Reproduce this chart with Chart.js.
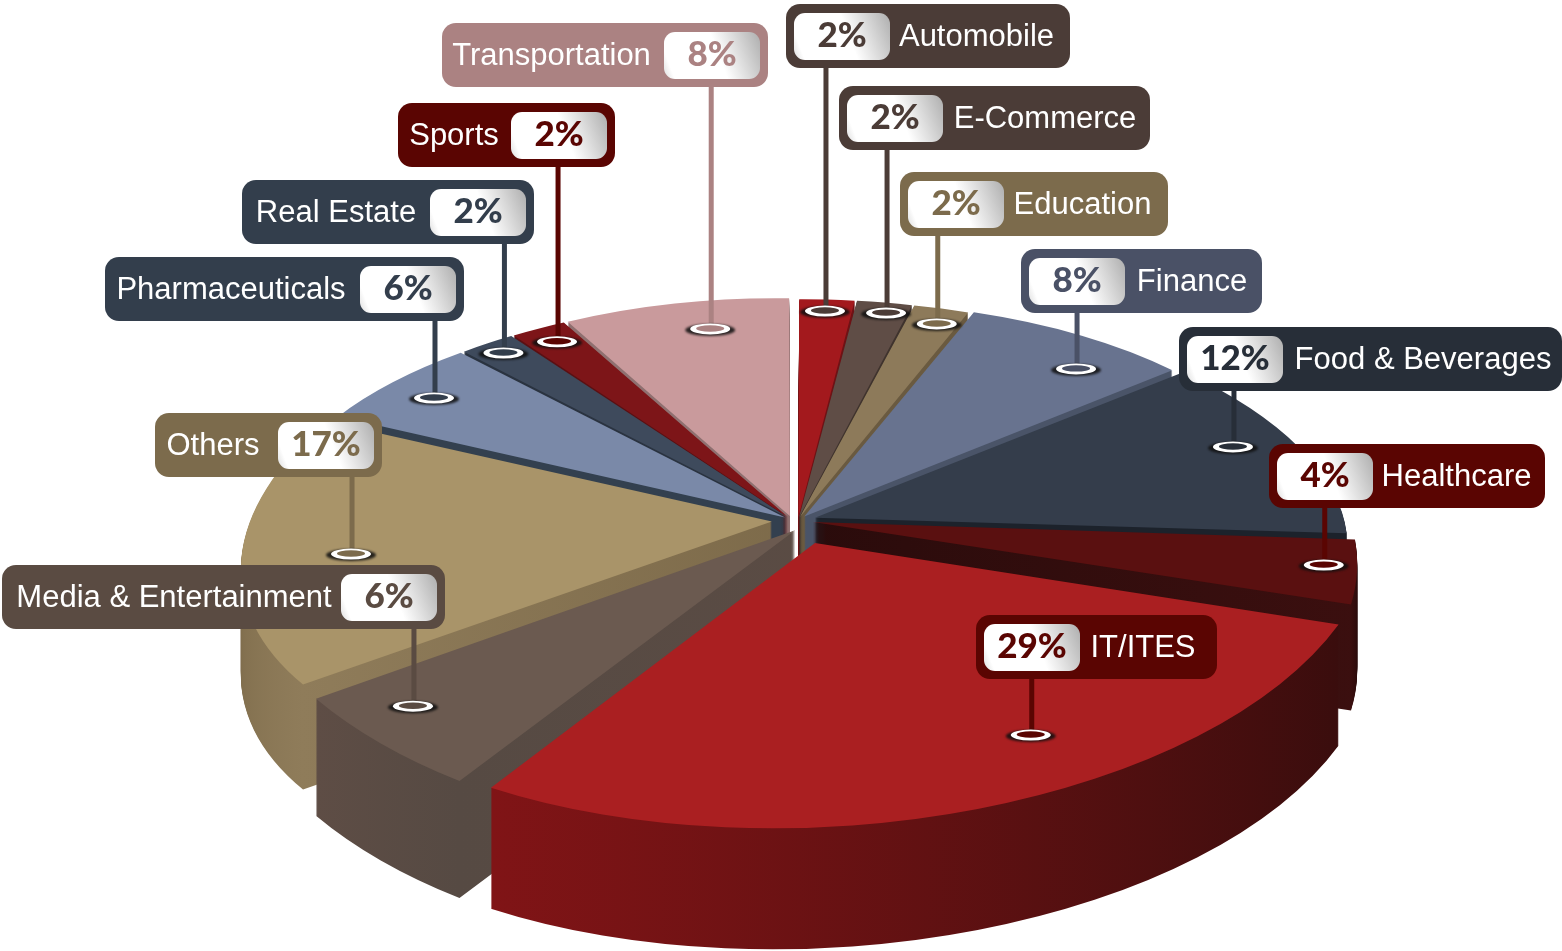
<!DOCTYPE html>
<html>
<head>
<meta charset="utf-8">
<title>Sector split</title>
<style>
    html, body { margin: 0; background: #ffffff; }
    canvas { display: block; }
</style>
<script src="https://cdn.jsdelivr.net/npm/chart.js@4/dist/chart.umd.js"></script>
</head>
<body>
<canvas id="sector-pie" width="1562" height="951"></canvas>
<script>
// Data
var categories = ["Automobile", "E-Commerce", "Education", "Finance", "Food & Beverages", "Healthcare", "IT/ITES",
    "Media & Entertainment", "Others", "Pharmaceuticals", "Real Estate", "Sports", "Transportation"];
var shares = [2, 2, 2, 8, 12, 4, 29, 6, 17, 6, 2, 2, 8];

// Slice styling
var topColors = ["#a3191d", "#5f4d46", "#8d7a5a", "#68738f", "#343d4b", "#5a1010", "#aa1f21", "#6b5a50", "#a99469", "#7a89a8", "#3e4a5c", "#7d1518", "#c99a9c"];
var wallFrom = ["#6e1215", "#3f332d", "#6a5a40", "#4a5468", "#1c222b", "#1a0808", "#3a0d0d", "#564a43", "#8f7c5a", "#33404f", "#2a3340", "#5a1013", "#8f7070"];
var wallTo = ["#6e1215", "#3f332d", "#6a5a40", "#4a5468", "#1c222b", "#3b0f0f", "#801416", "#5e4d45", "#6d5b3c", "#33404f", "#2a3340", "#5a1013", "#8f7070"];
var explode = [21, 21, 21, 31, 54, 64, 140, 80, 71, 29, 25, 25, 31];
var sideShift = [3, 3, 3, 4, 4, -3, 6, 20, 0, -3, -3, -3, -3];

// Callout styling and layout
var boxColors = ["#4b3c37", "#4b3c37", "#7c6b4c", "#4a5166", "#272e38", "#5a0502", "#5a0502", "#5a4b42", "#7c6b4c", "#333e4c", "#333e4c", "#5a0502", "#ab8282"];
var boxLeft = [786, 839, 900, 1021, 1179, 1269, 976, 2, 155, 105, 242, 398, 442];
var boxTop = [4, 86, 172, 249, 327, 444, 615, 565, 413, 257, 180, 103, 23];
var boxRight = [1070, 1150, 1168, 1262, 1562, 1545, 1217, 445, 382, 464, 534, 615, 768];
var pillOnLeft = [true, true, true, true, true, true, true, false, false, false, false, false, false];
var labelShift = [-2, 0, -2, 0, 2, -1, -4, 4, -2, 0, 1.5, 1, 0];
var markerAngle = [3.93, 11.9, 19.1, 41.7, 70.8, 100.1, 152.3, 224.5, 260.9, 305.2, 320.1, 327.4, 348];
var markerRadius = [.967, .975, .949, .896, .932, 1, .854, .933, .843, .918, .975, .955, .89];

// Projection of the unit disc onto the page
var view = { cx: 795, cy: 520, rx: 522, ry: 250, persp: .16, depth: 103 };

function project(u, v) {
    var w = 1 - view.persp * v;
    return { x: view.cx + view.rx * u / w, y: view.cy + view.ry * v / w, w: w };
}

// Affine map for one arc: centre and both rim corners land on the projected disc
function arcMatrix(el, i) {
    var R = el.outerRadius;
    var c1 = Math.cos(el.startAngle), s1 = Math.sin(el.startAngle);
    var c2 = Math.cos(el.endAngle), s2 = Math.sin(el.endAngle);
    var h0 = project(0, 0), h1 = project(c1, s1), h2 = project(c2, s2);
    var det = R * (c1 * s2 - c2 * s1);
    var ax = h1.x - h0.x, ay = h1.y - h0.y, bx = h2.x - h0.x, by = h2.y - h0.y;
    var a = (ax * s2 - bx * s1) / det, c = (bx * c1 - ax * c2) / det;
    var b = (ay * s2 - by * s1) / det, d = (by * c1 - ay * c2) / det;
    return [a, b, c, d, h0.x - a * el.x - c * el.y + sideShift[i], h0.y - b * el.x - d * el.y];
}

var pie3d = {
    id: "pie3d",
    beforeDatasetsDraw: function (chart) {
        var ctx = chart.ctx;
        var arcs = chart.getDatasetMeta(0).data.map(function (el, i) { return { el: el, i: i }; });
        arcs.sort(function (p, q) {
            return Math.sin((p.el.startAngle + p.el.endAngle) / 2) - Math.sin((q.el.startAngle + q.el.endAngle) / 2);
        });
        arcs.forEach(function (item) {
            var el = item.el, i = item.i, m = arcMatrix(el, i);
            var mid = (el.startAngle + el.endAngle) / 2;
            var depth = Math.round(view.depth / project(Math.cos(mid), Math.sin(mid)).w);
            var R = el.outerRadius;
            var grad = ctx.createLinearGradient(
                el.x + R * Math.cos(el.startAngle), el.y + R * Math.sin(el.startAngle),
                el.x + R * Math.cos(el.endAngle), el.y + R * Math.sin(el.endAngle));
            grad.addColorStop(0, wallFrom[i]);
            grad.addColorStop(1, wallTo[i]);
            var ghost = Object.create(el);
            ghost.options = Object.assign({}, el.options, { backgroundColor: grad, borderWidth: 0 });
            for (var d = depth; d >= 1; d--) {
                ctx.save();
                ctx.translate(0, d);
                ctx.transform(m[0], m[1], m[2], m[3], m[4], m[5]);
                ghost.draw(ctx);
                ctx.restore();
            }
            ctx.save();
            ctx.transform(m[0], m[1], m[2], m[3], m[4], m[5]);
            el.draw(ctx);
            ctx.restore();
        });
        return false;
    },
    afterDraw: function (chart) {
        var ctx = chart.ctx;
        categories.forEach(function (name, i) {
            var rad = markerAngle[i] * Math.PI / 180;
            var p = project(markerRadius[i] * Math.sin(rad), -markerRadius[i] * Math.cos(rad));
            ctx.strokeStyle = boxColors[i];
            ctx.lineWidth = 5;
            ctx.beginPath();
            ctx.moveTo(p.x + 1, boxTop[i] + 60);
            ctx.lineTo(p.x + 1, p.y);
            ctx.stroke();
            // ring marker
            ctx.save();
            ctx.filter = "blur(1px)";
            ctx.fillStyle = "rgba(15,15,15,.85)";
            ctx.beginPath();
            ctx.ellipse(p.x, p.y + 1, 25, 6, 0, 0, 2 * Math.PI);
            ctx.fill();
            ctx.restore();
            ctx.fillStyle = "#ffffff";
            ctx.beginPath();
            ctx.ellipse(p.x, p.y, 20, 5.5, 0, 0, 2 * Math.PI);
            ctx.fill();
            ctx.fillStyle = boxColors[i];
            ctx.beginPath();
            ctx.ellipse(p.x, p.y - .5, 14, 3.2, 0, 0, 2 * Math.PI);
            ctx.fill();
        });
        categories.forEach(function (name, i) {
            var x = boxLeft[i], y = boxTop[i], w = boxRight[i] - boxLeft[i];
            ctx.fillStyle = boxColors[i];
            ctx.beginPath();
            ctx.roundRect(x, y, w, 64, 14);
            ctx.fill();
            var px = pillOnLeft[i] ? x + 8 : x + w - 104, py = y + 9;
            var g = ctx.createLinearGradient(px, py + 47, px + 96, py + 10);
            g.addColorStop(0, "#dddddd");
            g.addColorStop(.1, "#ffffff");
            g.addColorStop(.58, "#ffffff");
            g.addColorStop(1, "#b4b4b4");
            ctx.fillStyle = g;
            ctx.beginPath();
            ctx.roundRect(px, py, 96, 47, 11);
            ctx.fill();
            ctx.textBaseline = "middle";
            ctx.textAlign = "center";
            ctx.font = "900 35px Lato";
            ctx.fillStyle = boxColors[i];
            ctx.fillText(shares[i] + "%", px + 48, py + 23);
            ctx.font = "31px 'Liberation Sans'";
            ctx.fillStyle = "#ffffff";
            var spaceFrom = pillOnLeft[i] ? px + 96 : x, spaceTo = pillOnLeft[i] ? x + w : px;
            ctx.fillText(name, (spaceFrom + spaceTo) / 2 - 1.5 + labelShift[i], y + 33);
        });
    }
};

var myChart = new Chart(document.getElementById("sector-pie").getContext("2d"), {
    type: "pie",
    data: {
        labels: categories,
        datasets: [{
            data: shares,
            backgroundColor: topColors,
            offset: explode,
            borderWidth: 0
        }]
    },
    options: {
        responsive: false,
        animation: false,
        events: [],
        plugins: { legend: { display: false }, tooltip: { enabled: false } }
    },
    plugins: [pie3d]
});
</script>
</body>
</html>
